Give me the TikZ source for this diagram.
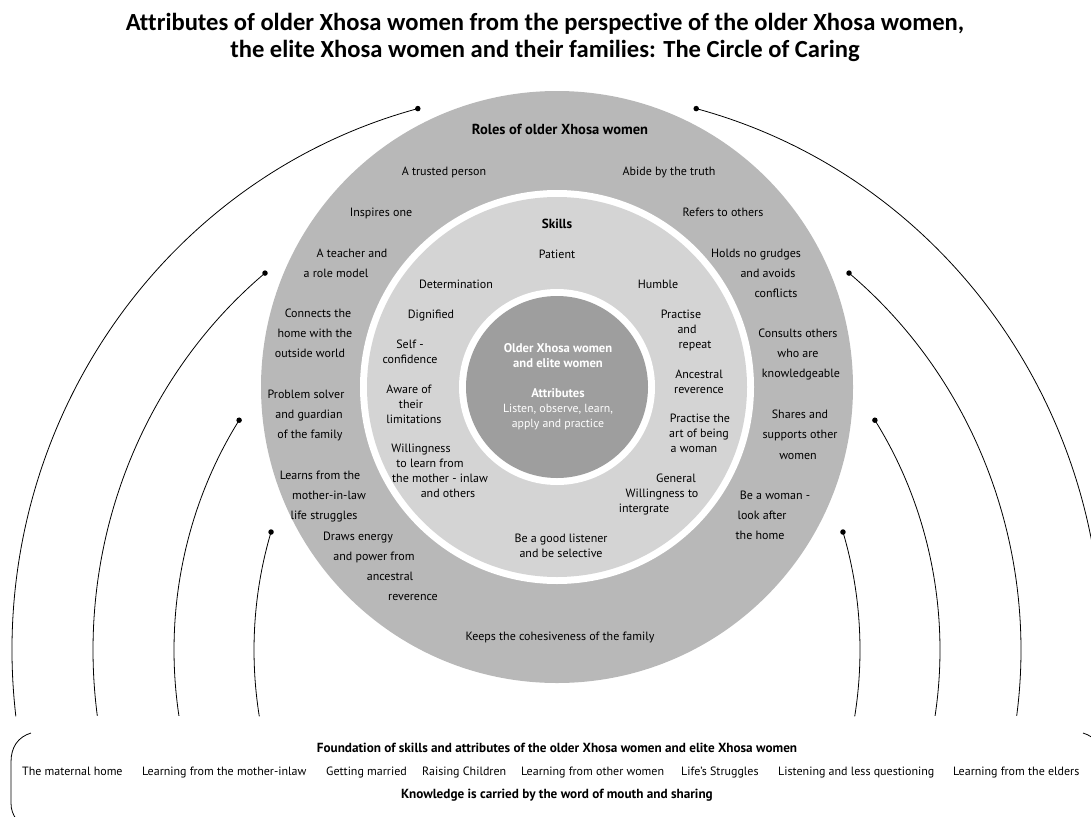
\documentclass[tikz,border=0pt]{standalone}
\usepackage{fontspec}
\setmainfont{PT Sans}
\newfontfamily\titlefont[Ligatures=NoCommon]{Carlito}
\definecolor{rolegray}{gray}{0.72}
\definecolor{skillgray}{gray}{0.83}
\definecolor{coregray}{gray}{0.62}
\tikzset{
  txt/.style={inner sep=0pt, text height=8.5pt, text depth=2.5pt, font=\fontsize{12}{13}\selectfont},
  head/.style={inner sep=0pt, text height=9.5pt, text depth=3pt, font=\fontsize{13.2}{14}\selectfont\bfseries},
  coretxt/.style={inner sep=0pt, text height=8.5pt, text depth=2.5pt, font=\fontsize{11.8}{13}\selectfont, text=white},
  corehead/.style={inner sep=0pt, text height=9pt, text depth=2.5pt, font=\fontsize{12.6}{13}\selectfont\bfseries, text=white},
  dot/.style={circle, fill=black, inner sep=0pt, minimum size=5.5pt},
  link/.style={line width=0.8pt},
}
\begin{document}
\begin{tikzpicture}[x=1pt,y=-1pt]
  \clip (0,0) rectangle (1091,816);

  % title
  \node[font=\titlefont\fontsize{24.6}{27}\selectfont\bfseries, align=center] (title) at (545,37)
    {Attributes of older Xhosa women from the perspective of the older Xhosa women,\\
     the elite Xhosa women and their families: The Circle of Caring};

  % rings
  \coordinate (mid) at (557,387);
  \fill[rolegray] (mid) circle[radius=296];
  \fill[white] (mid) circle[radius=197];
  \fill[skillgray] (mid) circle[radius=190];
  \fill[white] (mid) circle[radius=98];
  \fill[coregray] (mid) circle[radius=91];

  % arcs with dots
  \foreach \rx/\ry/\sa/\ea [count=\i] in {545/560/104.8/186.8, 464/485/129/187.8, 383/412/146.1/189.2, 303/357/160.7/190.7}{
    \pgfmathsetmacro\dx{\rx*cos(\sa)}
    \pgfmathsetmacro\dy{\ry*sin(\sa)}
    \node[dot] (dl\i) at (557+\dx,650-\dy) {};
    \draw[link] (dl\i.center) arc[start angle=-\sa, end angle=-\ea, x radius=\rx, y radius=\ry];
    \node[dot] (dr\i) at (557-\dx,650-\dy) {};
    \draw[link] (dr\i.center) arc[start angle=\sa-180, end angle=\ea-180, x radius=\rx, y radius=\ry];
  }

  % roles
  \node[head, font=\fontsize{14.5}{15}\selectfont\bfseries] (roles) at (560,131) {Roles of older Xhosa women};
  \foreach \x/\y/\t [count=\i] in {
      444/172/A trusted person, 669/172/Abide by the truth,
      381/213/Inspires one, 723/213/Refers to others,
      352/254/A teacher and, 336/274/a role model,
      756/254/Holds no grudges, 768/274/and avoids, 776/294/conflicts,
      318/314/Connects the, 315/334/home with the, 310/354/outside world,
      798/334/Consults others, 798/354/who are, 801/374/knowledgeable,
      306/395/Problem solver, 309/415/and guardian, 310/435/of the family,
      800/415/Shares and, 800/435/supports other, 798/456/women,
      320/476/Learns from the, 329/496/mother-in-law, 324/516/life struggles,
      775/496/Be a woman -, 762/516/look after, 760/536/the home,
      358/537/Draws energy, 374/557/and power from, 390/577/ancestral, 413/597/reverence,
      560/637/Keeps the cohesiveness of the family}
    \node[txt] (role\i) at (\x,\y) {\t};

  % skills
  \node[head] (skills) at (557,225) {Skills};
  \foreach \x/\y/\t [count=\i] in {
      557/255/Patient, 456/285/Determination, 658/285/Humble,
      431/315/Dignified, 681/315/Practise, 687/330/and, 695/345/repeat,
      410/345/Self -, 410/360/confidence,
      699/375/Ancestral, 699/390/reverence,
      409/390/Aware of, 411/405/their, 414/420/limitations,
      700/419/Practise the, 699/434/art of being, 694/449/a woman,
      421/449/Willingness, 430/464/to learn from, 440/479/the mother - inlaw, 448/494/and others,
      676/479/General, 662/494/Willingness to, 644/509/intergrate,
      561/539/Be a good listener, 561/554/and be selective}
    \node[txt] (skill\i) at (\x,\y) {\t};

  % core
  \node[corehead] (core1) at (558,349) {Older Xhosa women};
  \node[corehead] (core2) at (558,364) {and elite women};
  \node[corehead] (core3) at (558,394) {Attributes};
  \node[coretxt] (core4) at (558,409) {Listen, observe, learn,};
  \node[coretxt] (core5) at (558,424) {apply and practice};

  % foundation bracket
  \draw[link] (31,733) .. controls (18,737) and (11,747) .. (11,762) -- (11,803)
    .. controls (11,810) and (13,815) .. (17,820);
  \draw[link] (1083,733) .. controls (1096,737) and (1103,747) .. (1103,762) -- (1103,803);

  \node[head] (found) at (557,749) {Foundation of skills and attributes of the older Xhosa women and elite Xhosa women};
  \foreach \x/\t [count=\i] in {
      22/The maternal home, 142/Learning from the mother-inlaw, 326/Getting married,
      422/Raising Children, 521/Learning from other women, 681/Life’s Struggles,
      778/Listening and less questioning, 953/Learning from the elders}
    \node[txt, anchor=west] (base\i) at (\x,772) {\t};
  \node[head] (know) at (557,795) {Knowledge is carried by the word of mouth and sharing};
\end{tikzpicture}
\end{document}
